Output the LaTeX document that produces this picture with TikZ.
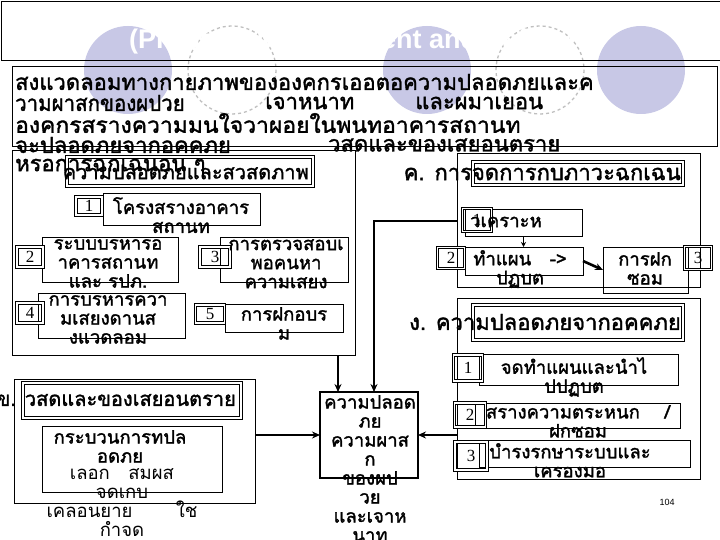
\documentclass[tikz,border=0pt]{standalone}
\usepackage{fontspec}
\setmainfont{Liberation Serif}
\newfontfamily\thaifont[Script=Thai, AutoFakeBold=1.6]{Loma}
\newfontfamily\headfont{Liberation Sans}
\usetikzlibrary{arrows.meta,positioning,calc}
\definecolor{lavender}{RGB}{200,200,230}
\newcommand\thB{\thaifont\bfseries\fontsize{22}{22}\selectfont}
\newcommand\thH{\thaifont\bfseries\fontsize{20}{20}\selectfont}
\newcommand\thM{\thaifont\bfseries\fontsize{18.5}{19}\selectfont}
\newcommand\thR{\thaifont\fontsize{18.5}{19}\selectfont}

\begin{document}
\begin{tikzpicture}[x=1pt, y=-1pt, >={Stealth[length=8pt,width=7pt]},
  box/.style={draw, inner sep=0pt, outer sep=0pt, line width=0.8pt, anchor=north west},
  dbox/.style={box, double, double distance=1.5pt, line width=0.9pt},
  num/.style={dbox, anchor=center, font=\fontsize{17}{17}\selectfont},
  txt/.style={inner sep=0pt, anchor=west, font=\thB},
  item/.style={inner sep=0pt, anchor=north, align=center, font=\thM},
  conn/.style={line width=2.6pt}]
\useasboundingbox (0,0) rectangle (720,540);
\fill[white] (0,0) rectangle (720,540);

% title strip
\foreach \cx in {128,427,641}
  \fill[lavender] (\cx,70) circle[radius=44];
\foreach \cx in {232,540}
  \draw[gray!50, dashed, line width=1.3pt, fill=white] (\cx,70) circle[radius=44];
\node[inner sep=0pt, anchor=west, text=white, font=\headfont\bfseries\fontsize{27}{27}\selectfont] (title) at (129,42) {(Property Management and Safety)};
\node[box, minimum width=730pt, minimum height=59pt] (top) at (1,1) {};

% intro text
\node[box, minimum width=705pt, minimum height=80pt] (intro) at (12,66) {};
\node[txt] (l1) at (15,82) {สงแวดลอมทางกายภาพขององคกรเออตอความปลอดภยและค};
\node[txt] (l2a) at (15,103) {\scalebox{0.93}[1]{วามผาสกของผปวย}};
\node[txt] (l2b) at (265,103) {เจาหนาท};
\node[txt] (l2c) at (415,103) {และผมาเยอน};
\node[txt] (l3) at (15,123) {\scalebox{1.04}[1]{องคกรสรางความมนใจวาผอยในพนทอาคารสถานท}};
\node[txt] (l4a) at (15,145) {จะปลอดภยจากอคคภย};
\node[txt] (l4b) at (328,145) {วสดและของเสยอนตราย};
\node[txt] (l5) at (15,167) {หรอการฉกเฉนอน ๆ};

% section A
\node[box, minimum width=343pt, minimum height=205pt] (secA) at (12,150) {};
\node[dbox, minimum width=246pt, minimum height=29pt] (hdA) at (67,157) {};
\node[txt, anchor=east, font=\thH] (hdAt) at (309,172) {ความปลอดภยและสวสดภาพ};
\node[box, minimum width=157pt, minimum height=32pt] (a1) at (103,193) {};
\node[num, minimum width=26pt, minimum height=18pt] (na1) at (89,206) {1};
\node[item] (a1t) at (181,197) {โครงสรางอาคาร\\สถานท};
\node[box, minimum width=136pt, minimum height=45pt] (a2) at (42,237) {};
\node[num, minimum width=26pt, minimum height=20pt] (na2) at (30,257) {2};
\node[item] (a2t) at (108,239) {ระบบบรหารอ\\าคารสถานท\\และ รปภ.};
\node[box, minimum width=128pt, minimum height=45pt] (a3) at (220,237) {};
\node[num, minimum width=30pt, minimum height=20pt] (na3) at (215,257) {3};
\node[item] (a3t) at (286,239) {การตรวจสอบเ\\พอคนหา\\ความเสยง};
\node[box, minimum width=147pt, minimum height=45pt] (a4) at (38,293) {};
\node[num, minimum width=26pt, minimum height=20pt] (na4) at (30,313) {4};
\node[item] (a4t) at (108,295) {การบรหารควา\\มเสยงดานส\\งแวดลอม};
\node[box, minimum width=118pt, minimum height=28pt] (a5) at (225,304) {};
\node[num, minimum width=29pt, minimum height=18pt] (na5) at (210,314) {5};
\node[item] (a5t) at (284,307) {การฝกอบร\\ม};

% section C
\node[box, minimum width=243pt, minimum height=134pt] (secC) at (457,153) {};
\node[dbox, minimum width=210pt, minimum height=23pt] (hdC) at (473,162) {};
\node[txt, anchor=east] (hdCt) at (681,174) {ค. การจดการกบภาวะฉกเฉน};
\node[box, minimum width=117pt, minimum height=27pt] (anl) at (465,209) {};
\node[num, minimum width=29pt, minimum height=23pt] (nc1) at (477,220) {1};
\node[txt, font=\thM] (anlt) at (470,222) {วเคราะห};
\node[box, minimum width=118pt, minimum height=28pt] (plan) at (465,247) {};
\node[num, minimum width=27pt, minimum height=21pt] (nc2) at (451,258) {2};
\node[item] (plant) at (520,250) {ทำแผน\quad ->\\ปฏบต};
\node[box, minimum width=85pt, minimum height=46pt] (drill) at (603,247) {};
\node[num, minimum width=27pt, minimum height=23pt] (nc3) at (698,258) {3};
\node[item] (drillt) at (645,252) {การฝก\\ซอม};
\draw[->, line width=1pt, >={Stealth[length=5pt,width=5pt]}] (anl.south) -- (anl.south |- plan.north);
\draw[conn, ->] (plan.east) -- (drill.west);

% section D
\node[box, minimum width=243pt, minimum height=181pt] (secD) at (457,298) {};
\node[dbox, minimum width=210pt, minimum height=35pt] (hdD) at (473,305) {};
\node[txt, anchor=east] (hdDt) at (681,322) {ง. ความปลอดภยจากอคคภย};
\node[box, minimum width=199pt, minimum height=31pt] (d1) at (479,354) {};
\node[num, minimum width=29pt, minimum height=26pt] (nd1) at (468,368) {1};
\node[item] (d1t) at (574,357) {จดทำแผนและนำไ\\ปปฏบต};
\node[box, minimum width=205pt, minimum height=25pt] (d2) at (475,403) {};
\node[num, minimum width=31pt, minimum height=24pt] (nd2) at (470,415) {2};
\node[item] (d2t) at (578,405) {สรางความตระหนก\quad\ /\\ฝกซอม};
\node[box, minimum width=211pt, minimum height=27pt] (d3) at (479,440) {};
\node[num, minimum width=32pt, minimum height=28pt] (nd3) at (471,456) {3};
\node[item] (d3t) at (570,443) {บำรงรกษาระบบและ\\เครองมอ};

% section B
\node[box, minimum width=241pt, minimum height=124pt] (secB) at (14,379) {};
\node[dbox, minimum width=218pt, minimum height=35pt] (hdB) at (23,383) {};
\node[txt, anchor=east, font=\thH] (hdBt) at (236,400) {ข. วสดและของเสยอนตราย};
\node[box, minimum width=180pt, minimum height=66pt] (proc) at (42,426) {};
\node[item] (proct) at (120,430) {กระบวนการทปล\\อดภย};
\node[item, font=\thR] (procu) at (122,468) {เลอก\quad สมผส\\จดเกบ\\เคลอนยาย\qquad\ ใช\\กำจด};

% centre
\node[box, line width=2.6pt, minimum width=98pt, minimum height=86pt] (core) at (320,392) {};
\node[item] (coret) at (370,395) {ความปลอด\\ภย\\ความผาส\\ก\\ของผป\\วย\\และเจาห\\นาท};
\coordinate (ina) at ($(core.north west)+(18,0)$);
\coordinate (inb) at ($(core.north west)+(54,0)$);
\coordinate (cout) at ($(secC.north west)+(0,68)$);
\draw[conn, ->] (secA.south -| ina) -- (ina);
\draw[conn, ->] (cout) -| (inb);
\draw[conn, ->] (secB.east |- core.west) -- (core.west);
\draw[conn, ->] (secD.west |- core.east) -- (core.east);

\node[inner sep=0pt, font=\headfont\fontsize{9}{9}\selectfont] (page) at (667,502) {104};
\end{tikzpicture}
\end{document}
